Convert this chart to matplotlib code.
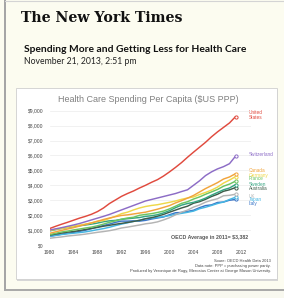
import matplotlib
matplotlib.use("Agg")
import matplotlib.pyplot as plt
from matplotlib.patches import Rectangle
from matplotlib.lines import Line2D

W, H = 284, 298

years = list(range(1980, 2012))

countries = ["United States", "Switzerland", "Canada", "Germany", "France",
             "Sweden", "Australia", "UK", "Japan", "Italy"]
colors = ["#e04a3e", "#8c6cc6", "#f1a43c", "#eed84a", "#6cc462",
          "#36a582", "#3f5c4a", "#b4b4b4", "#45b6e2", "#3c76c8"]

us = [1100, 1250, 1390, 1520, 1660, 1800, 1920, 2060, 2240, 2480, 2780, 3020,
      3260, 3450, 3620, 3820, 4000, 4200, 4380, 4620, 4900, 5200, 5520, 5880,
      6220, 6550, 6880, 7250, 7580, 7880, 8180, 8600]
switzerland = [1000, 1080, 1160, 1250, 1340, 1440, 1560, 1680, 1800, 1920, 2050, 2200,
               2350, 2500, 2650, 2800, 2950, 3050, 3150, 3250, 3350, 3450, 3580, 3700,
               4000, 4300, 4650, 4900, 5100, 5250, 5450, 5950]
canada = [780, 880, 980, 1070, 1160, 1270, 1380, 1480, 1590, 1710, 1810, 1900,
          1980, 2020, 2080, 2140, 2200, 2300, 2400, 2520, 2640, 2820, 2970, 3140,
          3320, 3550, 3780, 3980, 4180, 4420, 4560, 4780]
germany = [970, 1050, 1110, 1180, 1260, 1330, 1400, 1480, 1590, 1640, 1780, 1920,
           2100, 2200, 2350, 2480, 2580, 2650, 2700, 2780, 2860, 2950, 3060, 3150,
           3220, 3380, 3520, 3680, 3880, 4150, 4350, 4580]
france = [690, 780, 870, 930, 1010, 1070, 1140, 1200, 1290, 1400, 1520, 1620,
          1730, 1810, 1860, 1990, 2050, 2100, 2180, 2270, 2420, 2600, 2790, 2900,
          3080, 3220, 3400, 3560, 3720, 3940, 4080, 4280]
sweden = [940, 1030, 1110, 1170, 1230, 1290, 1340, 1400, 1470, 1560, 1620, 1650,
          1720, 1760, 1800, 1840, 1920, 1960, 2030, 2150, 2300, 2500, 2670, 2780,
          2860, 2980, 3140, 3340, 3520, 3700, 3820, 4050]
australia = [660, 730, 800, 860, 900, 970, 1040, 1110, 1180, 1260, 1320, 1390,
             1450, 1510, 1580, 1650, 1760, 1830, 1930, 2050, 2200, 2340, 2480, 2600,
             2800, 2900, 3060, 3250, 3400, 3600, 3700, 3850]
uk = [450, 500, 540, 600, 640, 680, 730, 790, 850, 900, 960, 1040,
      1140, 1200, 1270, 1340, 1420, 1470, 1550, 1680, 1830, 2020, 2200, 2340,
      2540, 2680, 2870, 3000, 3100, 3300, 3330, 3400]
japan = [580, 640, 700, 750, 790, 830, 880, 950, 1030, 1100, 1190, 1300,
         1400, 1490, 1580, 1660, 1760, 1800, 1850, 1900, 1970, 2060, 2120, 2190,
         2270, 2430, 2530, 2650, 2780, 2880, 3050, 3200]
italy = [580, 650, 720, 780, 840, 910, 990, 1100, 1210, 1310, 1400, 1520,
         1600, 1600, 1620, 1600, 1650, 1740, 1810, 1880, 2030, 2160, 2180, 2250,
         2330, 2500, 2640, 2690, 2850, 2880, 3000, 3050]
series = [us, switzerland, canada, germany, france, sweden, australia, uk, japan, italy]

# label rows (pixel y of each name at the right of the plot)
label_y = [115, 155, 171, 175, 179, 184, 188, 196, 200, 204]

yticks = list(range(0, 9001, 1000))
ytick_labels = ["${:,}".format(v) for v in yticks]
xticks = list(range(1980, 2013, 4))

source_lines = ["Soure: OECD Health Data 2013",
                "Data note: PPP = purchasing power parity.",
                "Produced by Veronique de Rugy, Mercatus Center at George Mason University."]


def fx(x):
    return x / W


def fy(y):
    return 1 - y / H


fig = plt.figure(figsize=(W / 100, H / 100), dpi=100)
fig.patch.set_facecolor("#fcfcf0")

# page frame
fig.add_artist(Rectangle((0, 0), 1, fy(290), transform=fig.transFigure,
                         facecolor="#f8f8ef", edgecolor="none", zorder=-5))
fig.add_artist(Line2D([fx(5), fx(5)], [fy(290), 1], transform=fig.transFigure,
                      color="#a4a4a4", lw=1.4, zorder=-4))
fig.add_artist(Line2D([fx(5), 1], [fy(290), fy(290)], transform=fig.transFigure,
                      color="#a8a8a8", lw=1.4, zorder=-4))
fig.add_artist(Line2D([fx(5), 1], [fy(1), fy(1)], transform=fig.transFigure,
                      color="#d4d4d4", lw=0.8, zorder=-4))

# header
fig.text(fx(21), fy(18), "The New York Times", family="DejaVu Serif",
         weight="bold", fontsize=10.2, va="center", color="#111111")
fig.text(fx(24), fy(50), "Spending More and Getting Less for Health Care",
         family="Lato", weight="bold", fontsize=7.35, va="center", color="#111111")
fig.text(fx(24), fy(61), "November 21, 2013, 2:51 pm",
         family="Lato", fontsize=6.2, va="center", color="#222222")

# white chart panel with a soft shadow
fig.add_artist(Rectangle((fx(17), fy(280.5)), fx(261), (280.5 - 89) / H,
                         transform=fig.transFigure, facecolor="#d6d6d6",
                         edgecolor="none", zorder=-3))
fig.add_artist(Rectangle((fx(16), fy(279)), fx(261), (279 - 88) / H,
                         transform=fig.transFigure, facecolor="white",
                         edgecolor="#cfcfcf", lw=0.6, zorder=-2))

fig.text(fx(148), fy(100), "Health Care Spending Per Capita ($US PPP)",
         family="Liberation Sans", fontsize=6.5, ha="center", va="center",
         color="#808080")

ax = fig.add_axes([fx(49.5), fy(245), fx(201), (245 - 110.7) / H])
ax.set_zorder(5)
ax.set_facecolor("none")
for s in ax.spines.values():
    s.set_visible(False)

for name, vals, c in zip(countries[::-1], series[::-1], colors[::-1]):
    ax.plot(years, vals, color=c, lw=1.05, solid_capstyle="round")
    ax.plot(years[-1], vals[-1], marker="o", ms=2.3, mfc="white", mec=c, mew=0.7,
            clip_on=False)

ax.set_xlim(1980, 2013.5)
ax.set_ylim(0, 9000)
ax.set_yticks(yticks)
ax.set_yticklabels(ytick_labels)
ax.set_xticks(xticks)
ax.set_xticklabels([str(x) for x in xticks])
ax.grid(axis="y", color="#ececec", lw=0.5)
ax.set_axisbelow(True)
ax.tick_params(length=0, labelsize=3.6, labelcolor="#444444")
ax.tick_params(axis="y", pad=4.6)
ax.tick_params(axis="x", pad=3.6)
for t in ax.get_xticklabels() + ax.get_yticklabels():
    t.set_family("Liberation Sans")

# country names
for name, c, yy in zip(countries, colors, label_y):
    if name == "United States":
        fig.text(fx(249), fy(yy), "United\nStates", family="Liberation Sans",
                 fontsize=3.4, color=c, va="center", linespacing=1.0)
    else:
        fig.text(fx(249), fy(yy), name, family="Liberation Sans",
                 fontsize=3.4, color=c, va="center")

fig.text(fx(210), fy(237), "OECD Average in 2011= $3,382", family="Liberation Sans",
         weight="bold", fontsize=3.8, ha="center", va="center", color="#555555")

for i, line in enumerate(source_lines):
    fig.text(fx(271), fy(261 + 5 * i), line, family="Liberation Sans",
             fontsize=2.9, ha="right", va="center", color="#444444")

fig.savefig("out.png", dpi=100, facecolor=fig.get_facecolor())
